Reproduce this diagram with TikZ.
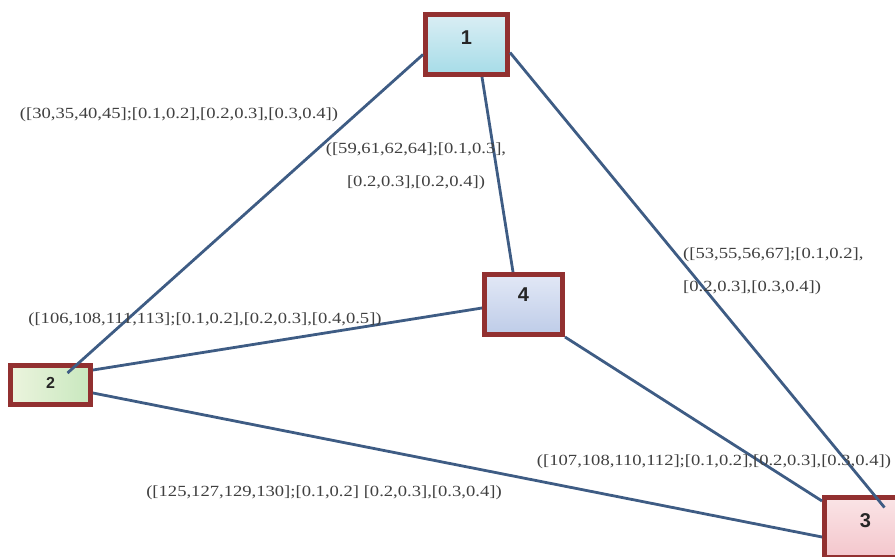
\documentclass[tikz,border=0pt]{standalone}
\usepackage{fontspec}
\newfontfamily\linkfont[FakeStretch=1.2]{Liberation Serif}
\newfontfamily\boxfont{Liberation Sans}
\definecolor{BoxRed}{RGB}{146, 48, 48}
\definecolor{LinkBlue}{RGB}{62, 92, 132}
\definecolor{OneTop}{RGB}{218, 238, 244}
\definecolor{OneBot}{RGB}{166, 220, 232}
\definecolor{TwoTop}{RGB}{236, 244, 222}
\definecolor{TwoBot}{RGB}{200, 232, 190}
\definecolor{FourTop}{RGB}{226, 232, 246}
\definecolor{FourBot}{RGB}{190, 204, 232}
\definecolor{ThreeTop}{RGB}{250, 228, 230}
\definecolor{ThreeBot}{RGB}{244, 198, 204}
\usepackage{tikz}
\usetikzlibrary{positioning}

\tikzset{
  citybox/.style={draw=BoxRed, line width=5pt, minimum width=82pt, minimum height=60pt,
    font=\boxfont\bfseries\fontsize{20}{20}\selectfont, text=black!85,
    text height=14pt, text depth=14pt},
  link/.style={draw=LinkBlue, line width=2.8pt},
  tag/.style={font=\linkfont\fontsize{15.5}{33}\selectfont, text=black!75, inner sep=0pt}
}

\begin{document}
\begin{tikzpicture}[x=1pt, y=-1pt]
  \useasboundingbox (0,0) rectangle (895,557);
  \clip (0,0) rectangle (895,557);

  % Boxes
  \node[citybox, top color=OneTop, bottom color=OneBot] (n1) at (466.5,44.5) {1};
  \node[citybox, top color=TwoTop, bottom color=TwoBot, shading angle=90,
    minimum width=80pt, minimum height=39pt, font=\boxfont\bfseries\fontsize{16}{16}\selectfont,
    text height=10pt, text depth=4pt] (n2) at (50.5,385) {2};
  \node[citybox, top color=FourTop, bottom color=FourBot, minimum width=78pt,
    text depth=20pt] (n4) at (523.5,304.5) {4};
  \node[citybox, top color=ThreeTop, bottom color=ThreeBot] (n3) at (865.5,527.5) {3};

  % Links
  \draw[link] ([yshift=-10pt]n1.west) -- ([xshift=17pt,yshift=12pt]n2.center);
  \draw[link] ([yshift=-8pt]n1.east) -- ([xshift=19pt,yshift=20pt]n3.center);
  \draw[link] ([xshift=15.5pt]n1.south) -- ([xshift=-10.5pt]n4.north);
  \draw[link] ([yshift=-3.5pt]n4.west) -- ([yshift=15pt]n2.east);
  \draw[link] (n4.south east) -- ([yshift=-6pt]n3.north west);
  \draw[link] ([yshift=-8pt]n2.east) -- ([yshift=-9.5pt]n3.west);

  % Labels
  \node[tag] (t12) at (179,115) {([30,35,40,45];[0.1,0.2],[0.2,0.3],[0.3,0.4])};
  \node[tag, align=center] (t14) at (416,166) {([59,61,62,64];[0.1,0.3],\\{}[0.2,0.3],[0.2,0.4])};
  \node[tag, align=left, anchor=west] (t13) at (683,271.5) {([53,55,56,67];[0.1,0.2],\\{}[0.2,0.3],[0.3,0.4])};
  \node[tag] (t42) at (205,320) {([106,108,111,113];[0.1,0.2],[0.2,0.3],[0.4,0.5])};
  \node[tag] (t43) at (714,462) {([107,108,110,112];[0.1,0.2],[0.2,0.3],[0.3,0.4])};
  \node[tag] (t23) at (324,493) {([125,127,129,130];[0.1,0.2] [0.2,0.3],[0.3,0.4])};
\end{tikzpicture}
\end{document}
